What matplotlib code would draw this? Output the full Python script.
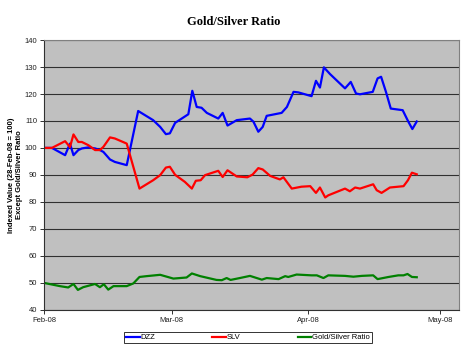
import matplotlib
matplotlib.use("Agg")
import matplotlib.pyplot as plt

# days since 1 Feb 2008 and the value at each point
dzz_days = [0, 1.8, 4.8, 5.9, 6.7, 7.8, 8.6, 10.1, 11.6, 12.7, 13.5, 15.0, 16.1, 18.8,
            21.4, 24.8, 26.4, 27.7, 28.6, 29.8, 32.8, 33.7, 34.7, 35.8, 37.0, 39.6,
            40.6, 41.7, 43.8, 46.8, 47.6, 48.7, 49.7, 50.6, 54.0, 55.2, 56.7, 57.8,
            60.8, 61.8, 62.7, 63.6, 65.0, 68.4, 69.7, 70.9, 71.8, 74.7, 75.8, 76.6,
            77.7, 78.8, 81.5, 82.8, 83.7, 84.7]
dzz = [100, 100, 97.3, 101.6, 97.3, 99.2, 99.8, 100.2, 99.8, 99.2, 98.5, 95.7, 94.8, 93.6,
       113.7, 110.3, 107.8, 105.1, 105.4, 109.3, 112.5, 121.2, 115.2, 114.9, 113.0, 110.9,
       113.0, 108.3, 110.3, 110.9, 109.7, 106.0, 107.8, 111.9, 113.0, 115.2, 120.8, 120.6,
       119.2, 124.9, 122.4, 129.9, 127.4, 122.1, 124.5, 120.2, 119.9, 120.8, 125.8, 126.4,
       120.8, 114.6, 114.0, 109.7, 107.0, 109.8]

slv_days = [0, 1.8, 4.8, 5.9, 6.7, 7.8, 8.6, 10.1, 11.6, 12.7, 13.5, 15.0, 16.1, 18.8,
            21.7, 24.8, 26.4, 27.7, 28.6, 29.8, 32.0, 33.6, 34.5, 35.6, 36.6, 39.6,
            40.6, 41.7, 43.8, 46.2, 47.4, 48.7, 49.7, 51.4, 53.6, 54.4, 56.3, 58.5,
            60.5, 61.8, 62.7, 63.9, 64.6, 68.4, 69.5, 70.7, 71.8, 74.8, 75.6, 76.7,
            78.6, 81.7, 82.7, 83.6, 84.7]
slv = [100, 100, 102.5, 100.3, 105.0, 102.2, 102.2, 101.0, 99.2, 99.2, 100.4, 103.9, 103.5, 101.6,
       84.9, 88.0, 89.9, 92.7, 93.0, 90.0, 87.4, 84.9, 87.8, 88.0, 89.9, 91.5,
       89.2, 91.7, 89.4, 89.1, 90.1, 92.5, 92.0, 89.6, 88.3, 89.1, 84.9, 85.6,
       85.8, 83.3, 85.3, 81.6, 82.4, 84.9, 83.9, 85.3, 84.9, 86.5, 84.3, 83.3,
       85.3, 85.8, 88.0, 90.8, 90.2]

ratio_days = [0, 1.8, 3.6, 5.5, 6.7, 7.7, 8.9, 11.6, 12.7, 13.6, 14.6, 15.8, 18.8, 20.3,
              21.7, 23.3, 26.4, 29.4, 32.4, 33.6, 35.5, 39.2, 40.4, 41.5, 42.4, 44.5,
              46.8, 49.5, 50.6, 53.3, 54.8, 55.5, 57.4, 60.8, 62.0, 63.5, 64.6, 68.4,
              70.3, 72.2, 74.8, 75.8, 78.3, 80.5, 81.7, 82.6, 83.6, 84.7]
ratio = [49.9, 49.3, 48.7, 48.2, 49.5, 47.3, 48.3, 49.5, 48.3, 49.4, 47.4, 48.7, 48.7, 49.7,
         52.1, 52.4, 52.9, 51.5, 51.9, 53.4, 52.4, 51.0, 50.9, 51.7, 51.0, 51.7,
         52.5, 51.1, 51.7, 51.3, 52.4, 52.1, 53.0, 52.7, 52.7, 51.7, 52.7, 52.5,
         52.2, 52.5, 52.7, 51.3, 52.1, 52.7, 52.7, 53.2, 52.1, 52.0]

month_labels = ["Feb-08", "Mar-08", "Apr-08", "May-08"]
month_lengths = [29, 31, 30]  # Feb (leap year), Mar, Apr

month_starts = [0]
for n in month_lengths:
    month_starts.append(month_starts[-1] + n)

fig = plt.figure(figsize=(4.7, 3.49), dpi=100)
ax = fig.add_axes([0.0936, 0.113, 0.883, 0.772])
ax.set_facecolor("#C0C0C0")

ax.plot(dzz_days, dzz, color="#0000FF", lw=1.6, label="DZZ")
ax.plot(slv_days, slv, color="#FF0000", lw=1.6, label="SLV")
ax.plot(ratio_days, ratio, color="#008000", lw=1.6, label="Gold/Silver Ratio")

ax.set_xlim(0, 94.3)
ax.set_ylim(40, 140)
ax.set_yticks(range(40, 141, 10))
ax.set_xticks(month_starts)
ax.set_xticklabels(month_labels)
ax.yaxis.grid(True, color="#303030", lw=0.8)
ax.set_axisbelow(True)

for side in ["top", "right"]:
    ax.spines[side].set_color("#808080")
    ax.spines[side].set_linewidth(0.8)
for side in ["left", "bottom"]:
    ax.spines[side].set_color("#303030")
    ax.spines[side].set_linewidth(0.8)

ax.tick_params(axis="both", labelsize=5.5, length=3, width=0.7, color="#303030",
               pad=2, labelcolor="#202020")
for lbl in ax.get_xticklabels() + ax.get_yticklabels():
    lbl.set_family("Liberation Sans")

ax.set_ylabel("Indexed Value (28-Feb-08 = 100)\nExcept Gold/Silver Ratio",
              fontsize=5.5, fontweight="bold", family="Liberation Sans",
              linespacing=1.3)
ax.yaxis.set_label_coords(-0.05, 0.5)

fig.suptitle("Gold/Silver Ratio", x=0.497, y=0.955, fontsize=9, fontweight="bold",
             family="Liberation Serif")

leg = fig.legend(loc="center", ncol=3, mode="expand",
                 bbox_to_anchor=(120 / 470, 1 - 343.5 / 349, 256 / 470, 12 / 349),
                 fancybox=False, frameon=True,
                 prop={"family": "Liberation Sans", "size": 5.5},
                 handlelength=1.8, handletextpad=0.1, borderpad=0.3)
leg.get_frame().set_edgecolor("black")
leg.get_frame().set_linewidth(0.7)

fig.savefig("out.png", dpi=100)
